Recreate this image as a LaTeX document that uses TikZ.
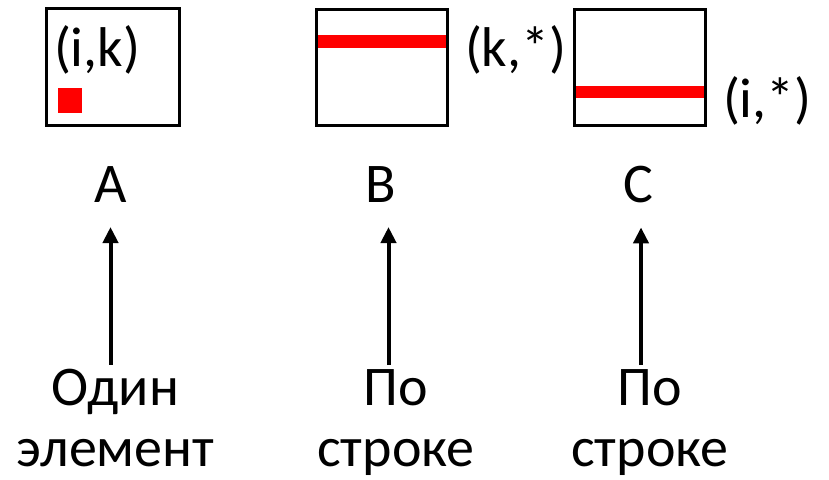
\documentclass[tikz,border=0pt]{standalone}
\usepackage{fontspec}
\setmainfont{Carlito}
\usetikzlibrary{arrows.meta}
\begin{document}
\begin{tikzpicture}[x=1pt,y=-1pt,
  every node/.style={inner sep=0pt,outer sep=0pt,font=\fontsize{56}{61}\selectfont},
  matbox/.style={draw=black,line width=3pt,fill=white},
  redmark/.style={fill=red,draw=none},
  lbl/.style={anchor=base},
  capt/.style={anchor=base,align=center},
  uparrow/.style={line width=4pt,-{Triangle[length=16pt,width=15pt]}}]
\useasboundingbox (0,0) rectangle (829,479);
% matrix A with a single element
\draw[matbox] (46,8) rectangle (179,125);
\fill[redmark] (58,88) rectangle (82,113);
\node[lbl,anchor=base west] (ik) at (54,66) {(i,k)};
% matrix B with row k
\draw[matbox] (316,9) rectangle (447,125);
\fill[redmark] (317.5,35) rectangle (445.5,48);
\node[lbl,anchor=base west] (kstar) at (465,66) {(k,*)};
% matrix C with row i
\draw[matbox] (574,9) rectangle (705,125);
\fill[redmark] (575.5,86) rectangle (703.5,98);
\node[lbl,anchor=base west] (istar) at (723,117) {(i,*)};
% matrix names
\node[lbl] (A) at (110.5,202) {A};
\node[lbl] (B) at (381,202) {B};
\node[lbl] (C) at (638.5,202) {C};
% access patterns (base anchor sits on the second line)
\node[capt] (pA) at (115.5,466) {Один\\элемент};
\node[capt] (pB) at (396,466) {По\\строке};
\node[capt] (pC) at (650,466) {По\\строке};
% arrows
\draw[uparrow] ([xshift=-5pt,yshift=4pt]pA.north) -- ([xshift=0pt,yshift=-25pt]A.south);
\draw[uparrow] ([xshift=-7.5pt,yshift=4pt]pB.north) -- ([xshift=7.5pt,yshift=-25pt]B.south);
\draw[uparrow] ([xshift=-9pt,yshift=4pt]pC.north) -- ([xshift=2.5pt,yshift=-25pt]C.south);
\end{tikzpicture}
\end{document}
